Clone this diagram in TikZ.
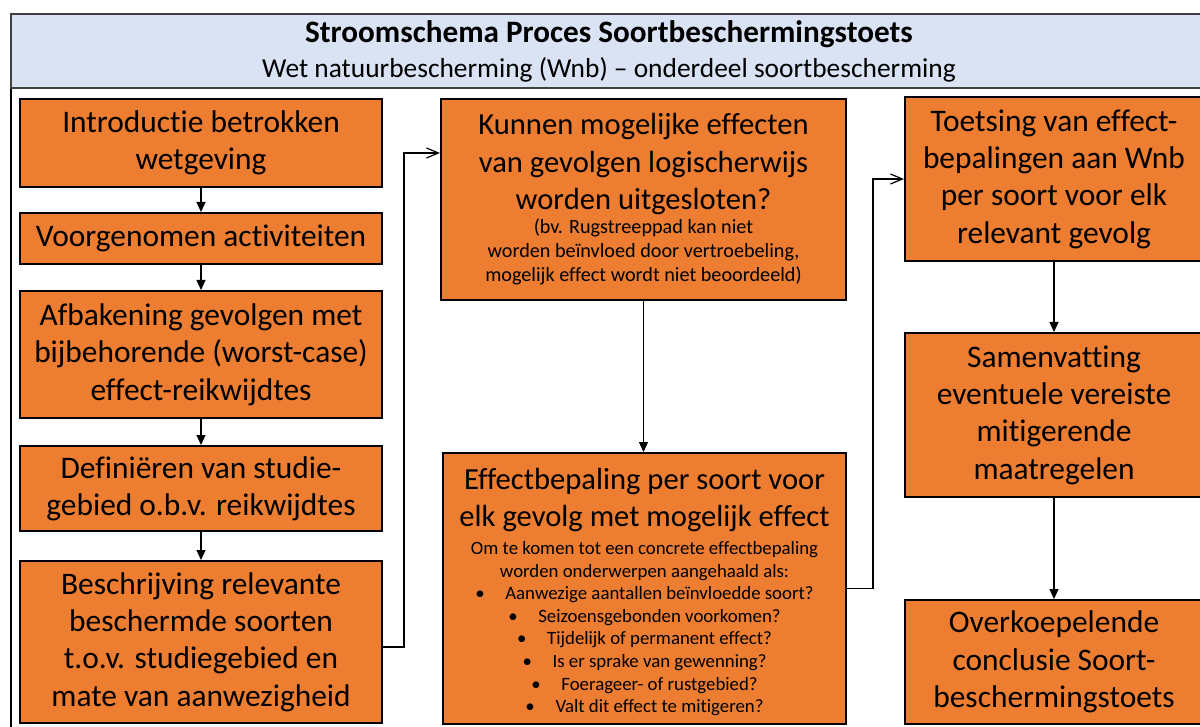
\documentclass[tikz,border=0pt]{standalone}
\usepackage{fontspec}
\setmainfont{Carlito}[Ligatures=NoCommon]
\usetikzlibrary{arrows.meta}
\definecolor{boxorange}{HTML}{ED7D31}
\definecolor{titleblue}{HTML}{DAE3F3}
\definecolor{titleline}{HTML}{404040}
\begin{document}
\begin{tikzpicture}[x=0.5pt,y=-0.5pt,
  box/.style={draw=black, line width=1pt, fill=boxorange, inner sep=0pt, align=center,
    font=\fontsize{15.7}{18.7}\selectfont, text=black},
  down/.style={-{Triangle[length=5pt,width=4.5pt]}, line width=0.6pt},
  conn/.style={-{Straight Barb[length=6pt,width=5pt]}, line width=0.6pt}]
\useasboundingbox (0,0) rectangle (1200,727);
\clip (0,0) rectangle (1200,727);
\fill[white] (0,0) rectangle (1200,727);
% frame
\draw[line width=0.6pt] (11,88) rectangle (1230,760);
% title
\node[draw=titleline, line width=0.6pt, fill=titleblue, minimum width=598pt, minimum height=37pt,
  inner sep=0pt, align=center, font=\fontsize{13.7}{17.5}\selectfont] (title) at (609,51)
  {{\bfseries\fontsize{15.6}{17.5}\selectfont Stroomschema Proces Soortbeschermingstoets}\\
   Wet natuurbescherming (Wnb) – onderdeel soortbescherming};
% left column
\node[box, minimum width=181pt, minimum height=44pt] (b1) at (201,143)
  {Introductie betrokken\\wetgeving};
\node[box, minimum width=181pt, minimum height=25.5pt] (b2) at (201,238.5)
  {Voorgenomen activiteiten};
\node[box, minimum width=181pt, minimum height=63.5pt] (b3) at (201,354.5)
  {Afbakening gevolgen met\\bijbehorende (worst-case)\\effect-reikwijdtes};
\node[box, minimum width=181pt, minimum height=42.5pt] (b4) at (201,488.5)
  {Definiëren van studie-\\gebied o.b.v. reikwijdtes};
\node[box, minimum width=181pt, minimum height=81pt] (b5) at (201,642)
  {Beschrijving relevante\\beschermde soorten\\t.o.v. studiegebied en\\mate van aanwezigheid};
% middle column
\node[box, align=flush center, text width=200pt, minimum width=202.5pt, minimum height=100.5pt] (b6) at (643.5,199.5)
  {{\fontsize{15.3}{18.7}\selectfont Kunnen mogelijke effecten\\van gevolgen logischerwijs\\worden uitgesloten?\par}
   {\fontsize{10.1}{12}\selectfont (bv. Rugstreeppad kan niet\\worden beïnvloed door vertroebeling,\\mogelijk effect wordt niet beoordeeld)\par}};
\node[box, align=flush center, text width=200pt, minimum width=201.5pt, minimum height=135.5pt] (b7) at (644.5,588.5)
  {{\fontsize{15.3}{18.7}\selectfont Effectbepaling per soort voor\\elk gevolg met mogelijk effect\par}
   \vspace{2.5pt}
   {\fontsize{9.4}{11.3}\selectfont Om te komen tot een concrete effectbepaling\\worden onderwerpen aangehaald als:\\
    •\hspace{1.1em}Aanwezige aantallen beïnvloedde soort?\\
    •\hspace{1.1em}Seizoensgebonden voorkomen?\\
    •\hspace{1.1em}Tijdelijk of permanent effect?\\
    •\hspace{1.1em}Is er sprake van gewenning?\\
    •\hspace{1.1em}Foerageer- of rustgebied?\\
    •\hspace{1.1em}Valt dit effect te mitigeren?\par}
   \vspace{-3.5pt}};
% right column
\node[box, minimum width=149pt, minimum height=82pt] (b8) at (1054,179)
  {Toetsing van effect-\\bepalingen aan Wnb\\per soort voor elk\\relevant gevolg};
\node[box, minimum width=149pt, minimum height=82pt] (b9) at (1054,415)
  {Samenvatting\\eventuele vereiste\\mitigerende\\maatregelen};
\node[box, minimum width=149pt, minimum height=62pt] (b10) at (1054,662)
  {Overkoepelende\\conclusie Soort-\\beschermingstoets};
% connectors
\draw[down] (b1) -- (b2);
\draw[down] (b2) -- (b3);
\draw[down] (b3) -- (b4);
\draw[down] (b4) -- (b5);
\coordinate (c1) at (404,153);
\draw[conn] ([yshift=-2.5pt]b5.east) -| (c1) -- (c1 -| b6.west);
\draw[down] (b6.south) -- (b6.south |- b7.north);
\coordinate (c2) at (873,179);
\draw[conn] (b7.east) -| (c2) -- (b8.west);
\draw[down] (b8) -- (b9);
\draw[down] (b9) -- (b10);
\end{tikzpicture}
\end{document}
